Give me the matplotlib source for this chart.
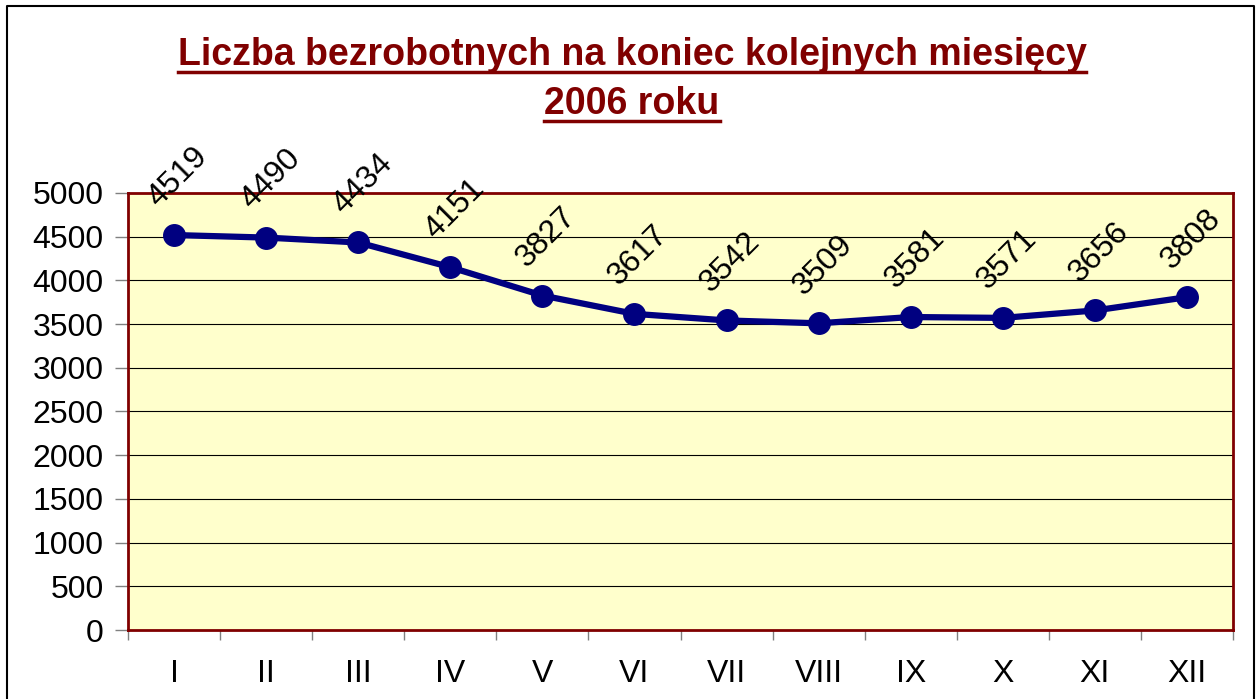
import matplotlib
matplotlib.use("Agg")
import matplotlib.pyplot as plt
from matplotlib.lines import Line2D

# data
months = ["I", "II", "III", "IV", "V", "VI", "VII", "VIII", "IX", "X", "XI", "XII"]
unemployed = [4519, 4490, 4434, 4151, 3827, 3617, 3542, 3509, 3581, 3571, 3656, 3808]
yticks = [0, 500, 1000, 1500, 2000, 2500, 3000, 3500, 4000, 4500, 5000]

W, H = 1260, 699
plt.rcParams['font.family'] = ['Liberation Sans', 'DejaVu Sans']
fig = plt.figure(figsize=(W / 100, H / 100), dpi=100)

# plot area in pixels: left 128, right 1233, top 193, bottom 630
ax = fig.add_axes([128 / W, 1 - 630 / H, (1233 - 128) / W, (630 - 193) / H])
ax.set_facecolor("#FFFFCC")
for s in ax.spines.values():
    s.set_color("#800000")
    s.set_linewidth(2)

x = list(range(len(months)))
ax.set_xlim(-0.5, len(months) - 0.5)
ax.set_ylim(0, 5000)
ax.set_yticks(yticks)
ax.yaxis.grid(True, color="black", linewidth=0.8)
ax.set_axisbelow(True)
ax.tick_params(axis="y", direction="out", length=9.5, width=1, color="#808080",
               labelsize=23, pad=8)
ax.set_xticks(x)
ax.set_xticklabels(months)
ax.tick_params(axis="x", length=0, labelsize=23, pad=21)
# category boundary ticks
ax.set_xticks([i - 0.5 for i in range(len(months) + 1)], minor=True)
ax.tick_params(axis="x", which="minor", direction="out", length=7, width=1, color="#808080")

ax.plot(x, unemployed, color="#000080", linewidth=4.5, marker="o", markersize=15.5,
        clip_on=False, zorder=5)
for xi, v in zip(x, unemployed):
    ax.annotate(str(v), (xi, v), xytext=(3, 42), textcoords="offset points",
                rotation=45, ha="center", va="center", fontsize=23,
                annotation_clip=False)

# title with underline
title_color = "#800000"
t1 = fig.text(632 / W, 1 - 55 / H, "Liczba bezrobotnych na koniec kolejnych miesięcy",
              ha="center", va="center", fontsize=27, fontweight="bold", color=title_color)
t2 = fig.text(632 / W, 1 - 104 / H, "2006 roku",
              ha="center", va="center", fontsize=27, fontweight="bold", color=title_color)
fig.canvas.draw()
r = fig.canvas.get_renderer()
for t in (t1, t2):
    bb = t.get_window_extent(renderer=r)
    y = bb.y0 + 1
    fig.add_artist(Line2D([bb.x0 / W, bb.x1 / W], [y / H, y / H], color=title_color,
                          linewidth=2.5, transform=fig.transFigure))

# outer border
fig.add_artist(Line2D([7 / W, 7 / W, 1254 / W, 1254 / W],
                      [0, 1 - 6 / H, 1 - 6 / H, 0], color="black", linewidth=1.5,
                      transform=fig.transFigure))

fig.savefig("out.png", dpi=100)
